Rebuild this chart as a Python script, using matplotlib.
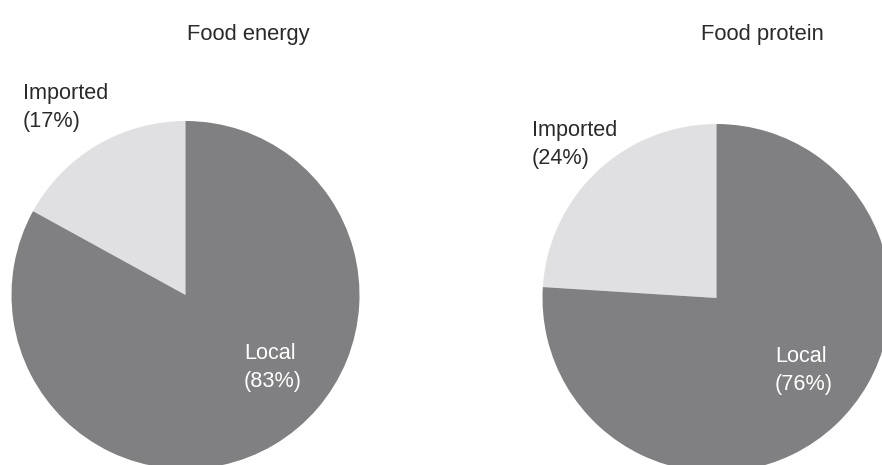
import matplotlib
matplotlib.use("Agg")
import matplotlib.pyplot as plt

plt.rcParams['font.family'] = ['Liberation Sans', 'DejaVu Sans']

W, H = 882, 465

titles = ['Food energy', 'Food protein']
labels = ['Imported', 'Local']
energy = [17, 83]
protein = [24, 76]
colors = ['#e0e0e2', '#808083']

fig = plt.figure(figsize=(W / 100, H / 100), dpi=100)
ax = fig.add_axes([0, 0, 1, 1])

# pixel layout: (centre x, centre y, radius, title x, imported label pos, local label pos)
layout = [
    (185.5, 295, 174, 248, (23, 83), (244, 343)),
    (716.5, 298, 174, 762, (532, 120), (775, 346)),
]

for vals, title, (cx, cy, r, tx, imp, loc) in zip([energy, protein], titles, layout):
    ax.pie(vals, colors=colors, startangle=90, counterclock=True,
           center=(cx, H - cy), radius=r, frame=True,
           wedgeprops=dict(linewidth=0))
    ax.text(tx, H - 24, title, ha='center', va='top', fontsize=15.8, color='#2a2a2a')
    ax.text(imp[0], H - imp[1], '%s\n(%d%%)' % (labels[0], vals[0]),
            ha='left', va='top', fontsize=15.6, color='#2a2a2a', linespacing=1.45)
    ax.text(loc[0], H - loc[1], '%s\n(%d%%)' % (labels[1], vals[1]),
            ha='left', va='top', fontsize=15.6, color='white', linespacing=1.45)

ax.set_xlim(0, W)
ax.set_ylim(0, H)
ax.set_aspect('equal')
ax.axis('off')

fig.savefig('out.png', dpi=100)
